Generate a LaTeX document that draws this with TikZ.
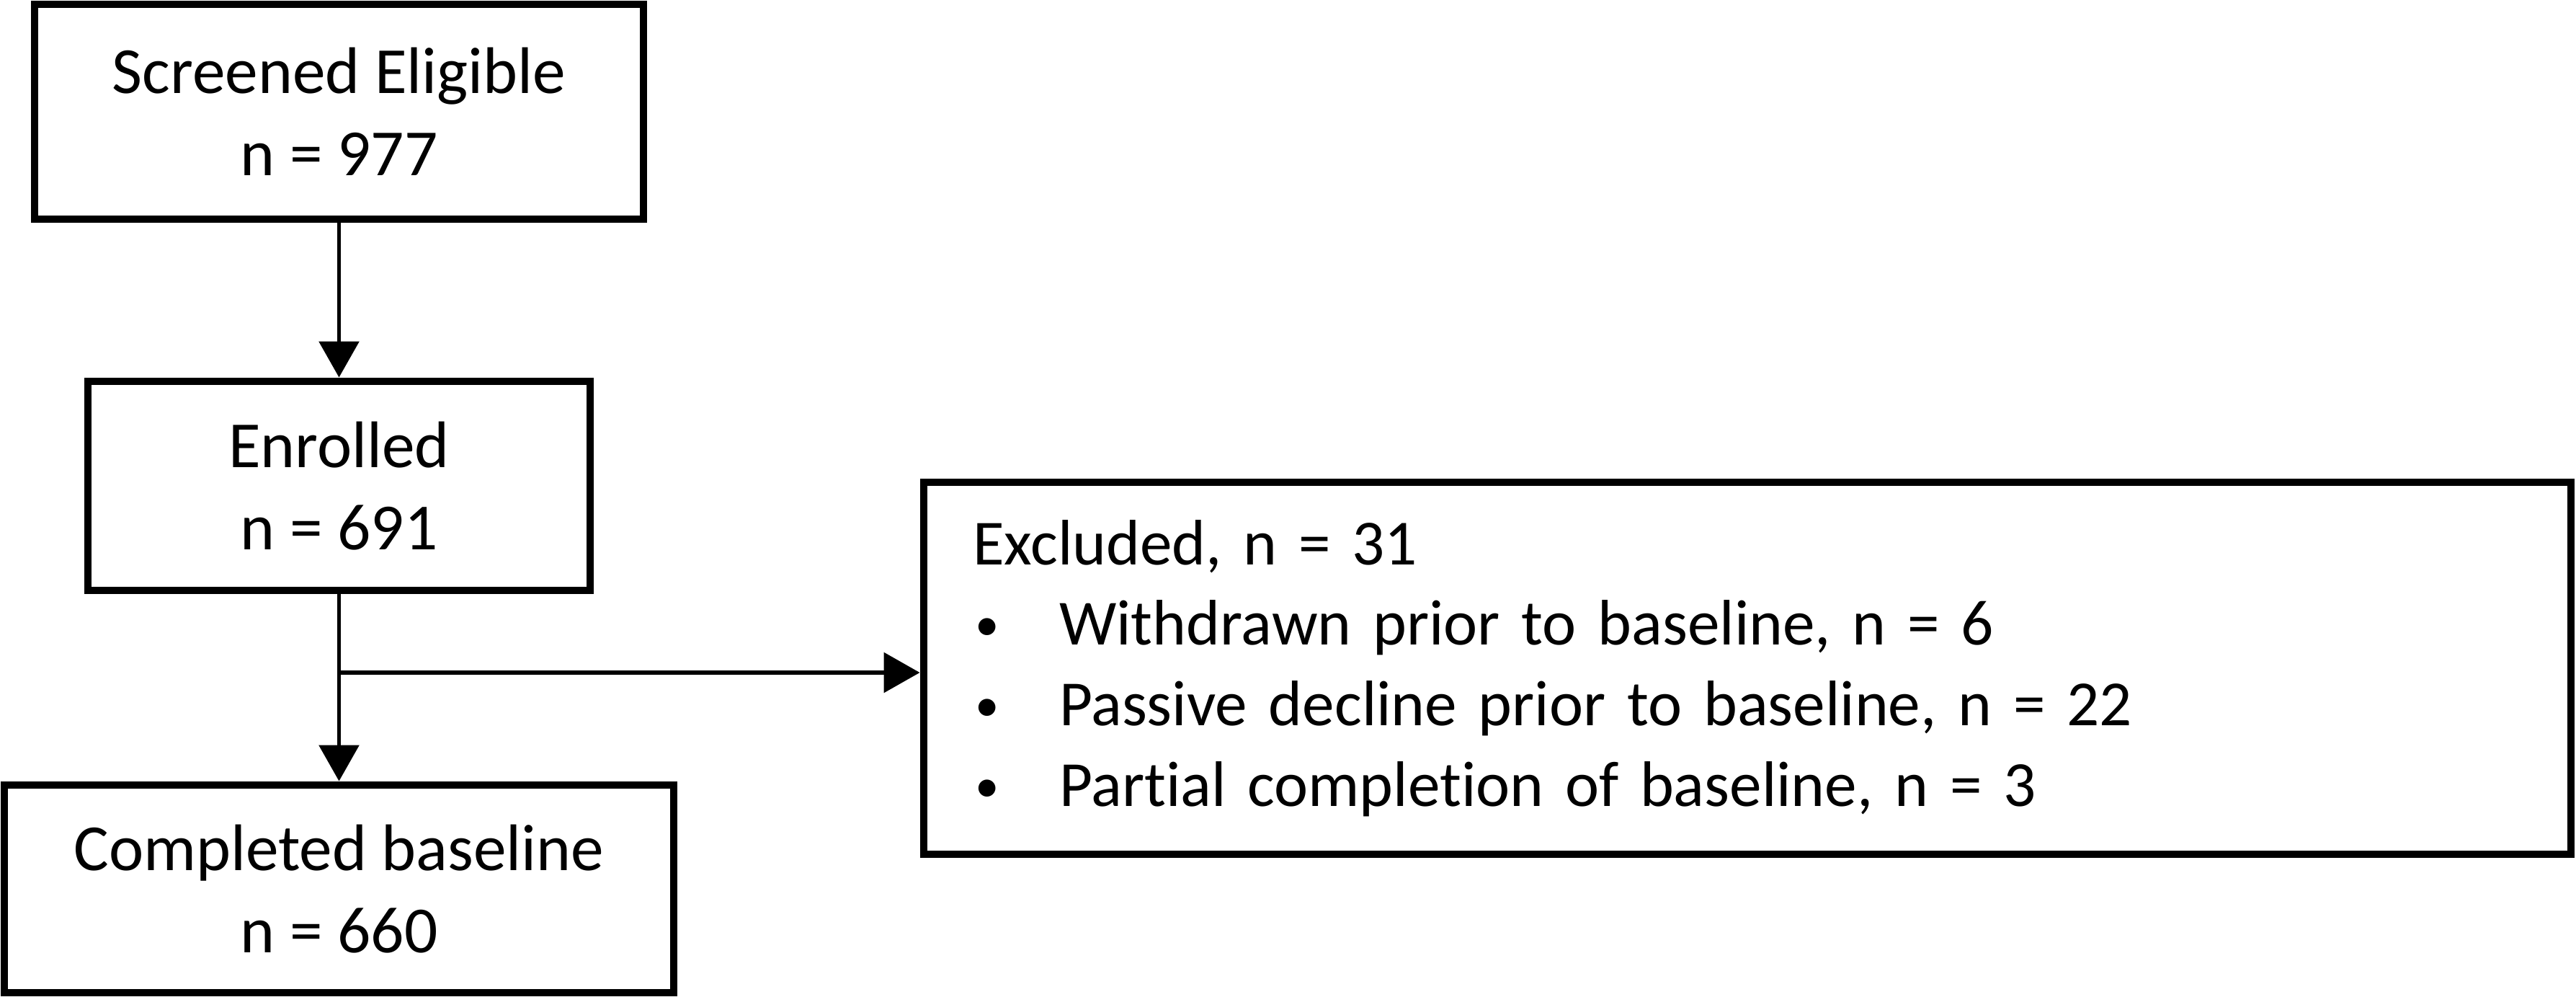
\documentclass[tikz,border=0pt]{standalone}
\usepackage{fontspec}
\setmainfont{Carlito}[Ligatures={NoCommon}]
\usetikzlibrary{arrows.meta,positioning}

\tikzset{
  flowbox/.style={draw, line width=3.1pt, rectangle, align=center, inner sep=0pt,
    font=\fontsize{26pt}{32.5pt}\selectfont},
  flowarrow/.style={line width=1.7pt, -{Triangle[length=0.5cm,width=0.55cm]}}
}
\newcommand{\bulletitem}[1]{\makebox[1.2cm][l]{\hspace{0.03cm}\raisebox{0.06cm}{\scalebox{0.75}{\textbullet}}}#1}

\begin{document}
\begin{tikzpicture}
\useasboundingbox (0,0) rectangle (35.75,-13.83);

\node[flowbox, minimum width=8.45cm, minimum height=2.98cm] (screened) at (4.705,-1.55) {Screened Eligible\\n = 977};
\node[flowbox, minimum width=6.97cm, minimum height=2.90cm] (enrolled) at ([shift={(0,-5.19)}] screened) {Enrolled\\n = 691};
\node[flowbox, minimum width=9.29cm, minimum height=2.88cm] (completed) at ([shift={(0,-5.59)}] enrolled) {Completed baseline\\n = 660};
\node[flowbox, align=left, text width=21.5cm, inner xsep=0.68cm,
      font=\fontsize{25.4pt}{31.8pt}\selectfont,
      minimum width=22.86cm, minimum height=5.16cm] (excluded) at (24.25,-9.27)
  {Excluded, n = 31\\
   \bulletitem{Withdrawn prior to baseline, n = 6}\\
   \bulletitem{Passive decline prior to baseline, n = 22}\\
   \bulletitem{Partial completion of baseline, n = 3}};

\coordinate (branch) at ([yshift=-2.59cm] enrolled.center);

\draw[flowarrow] (screened) -- (enrolled);
\draw[flowarrow] (enrolled) -- (completed);
\draw[flowarrow] (branch) -- (branch -| excluded.west);
\end{tikzpicture}
\end{document}
